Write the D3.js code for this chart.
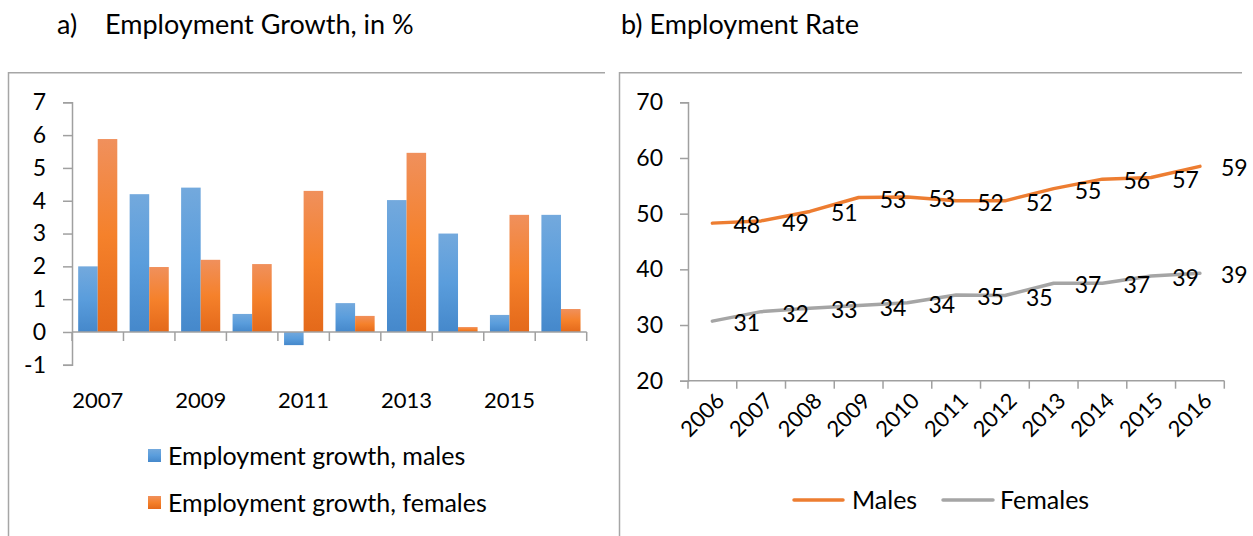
<!DOCTYPE html>
<html>
<head>
<meta charset="utf-8">
<script src="https://cdn.jsdelivr.net/npm/d3@7"></script>
<style>
  html, body { margin: 0; padding: 0; background: #fff; }
  svg { display: block; font-family: Lato, "Open Sans", sans-serif; }
  text { fill: #000; }
</style>
</head>
<body>
<svg id="chart" width="1253" height="536"></svg>
<script>
// ---------- data ----------
const growthYears = [2007, 2008, 2009, 2010, 2011, 2012, 2013, 2014, 2015, 2016];
const growthMales = [2.0, 4.2, 4.4, 0.55, -0.4, 0.88, 4.02, 3.0, 0.52, 3.57];
const growthFemales = [5.88, 1.98, 2.2, 2.07, 4.3, 0.49, 5.46, 0.15, 3.57, 0.7];
const growthTicks = [-1, 0, 1, 2, 3, 4, 5, 6, 7];
const growthYearLabels = [2007, 2009, 2011, 2013, 2015];
const growthSeries = ["Employment growth, males", "Employment growth, females"];

const rateYears = [2006, 2007, 2008, 2009, 2010, 2011, 2012, 2013, 2014, 2015, 2016];
const rateMales = [48.3, 48.7, 50.4, 52.9, 53.0, 52.3, 52.3, 54.5, 56.2, 56.5, 58.5];
const rateFemales = [30.7, 32.4, 33.0, 33.5, 34.0, 35.4, 35.3, 37.5, 37.5, 38.8, 39.3];
const rateMalesLabels = ["48", "49", "51", "53", "53", "52", "52", "55", "56", "57", "59"];
const rateFemalesLabels = ["31", "32", "33", "34", "34", "35", "35", "37", "37", "39", "39"];
const rateTicks = [20, 30, 40, 50, 60, 70];
const rateSeries = ["Males", "Females"];

const svg = d3.select("#chart");
const gridColor = "#a6a6a6";
const axisColor = "#a0a0a0";

// gradients
const defs = svg.append("defs");
function grad(id, stops) {
  const g = defs.append("linearGradient").attr("id", id)
    .attr("x1", 0).attr("y1", 0).attr("x2", 0).attr("y2", 1);
  stops.forEach(s => g.append("stop").attr("offset", s[0]).attr("stop-color", s[1]));
}
grad("gBlue", [[0, "#73a9dd"], [0.5, "#5a9ddc"], [1, "#4588cb"]]);
grad("gOrange", [[0, "#f0905c"], [0.5, "#f5812b"], [1, "#e4691a"]]);
const barFills = ["url(#gBlue)", "url(#gOrange)"];

// ---------- titles ----------
svg.append("text").attr("x", 57).attr("y", 34).attr("font-size", 27).text("a)");
svg.append("text").attr("x", 105).attr("y", 34).attr("font-size", 27).text("Employment Growth, in %");
svg.append("text").attr("x", 621).attr("y", 34).attr("font-size", 27).text("b) Employment Rate");

// ---------- frames ----------
svg.append("path").attr("d", "M8.5,540 V72.75 H605")
  .attr("fill", "none").attr("stroke", gridColor).attr("stroke-width", 1.5);
svg.append("path").attr("d", "M619.5,540 V72.75 H1242")
  .attr("fill", "none").attr("stroke", gridColor).attr("stroke-width", 1.5);

// ---------- chart a ----------
const yA = d3.scaleLinear().domain([-1, 7]).range([364.8, 102.3]);
const xA = d3.scaleBand().domain(growthYears).range([72, 586.7]).paddingInner(0.24).paddingOuter(0.12);
const xA1 = d3.scaleBand().domain([0, 1]).range([0, xA.bandwidth()]);
const gA = svg.append("g");

const rowsA = growthYears.map((yr, i) => ({ yr, vals: [growthMales[i], growthFemales[i]] }));
gA.selectAll("g.grp").data(rowsA).join("g").attr("class", "grp")
  .attr("transform", d => `translate(${xA(d.yr)},0)`)
  .selectAll("rect").data(d => d.vals.map((v, k) => ({ v, k }))).join("rect")
  .attr("x", d => xA1(d.k))
  .attr("width", xA1.bandwidth())
  .attr("y", d => yA(Math.max(0, d.v)))
  .attr("height", d => Math.abs(yA(d.v) - yA(0)))
  .attr("fill", d => barFills[d.k]);

// y axis
const axA = gA.append("g").attr("transform", "translate(72,0)")
  .call(d3.axisLeft(yA).tickValues(growthTicks).tickSize(9).tickPadding(17).tickFormat(d => String(d)));
axA.select(".domain").attr("stroke", axisColor).attr("stroke-width", 1.5);
axA.selectAll(".tick line").attr("stroke", axisColor).attr("stroke-width", 1.5);
axA.selectAll(".tick text").attr("font-size", 23).attr("font-family", "Lato").attr("fill", "#000");

// x axis
const zeroY = yA(0);
gA.append("line").attr("x1", 72).attr("x2", 586.7).attr("y1", zeroY).attr("y2", zeroY)
  .attr("stroke", axisColor).attr("stroke-width", 1.5);
const stepA = xA.step();
gA.selectAll("line.xt").data(d3.range(growthYears.length + 1)).join("line").attr("class", "xt")
  .attr("x1", k => 72 + k * stepA).attr("x2", k => 72 + k * stepA)
  .attr("y1", zeroY).attr("y2", zeroY + 9)
  .attr("stroke", axisColor).attr("stroke-width", 1.5);
gA.selectAll("text.xl").data(growthYearLabels).join("text").attr("class", "xl")
  .attr("x", d => xA(d) + xA.bandwidth() / 2).attr("y", 408)
  .attr("text-anchor", "middle").attr("font-size", 22).text(d => d);

// legend a
growthSeries.forEach((s, k) => {
  const cy = 456 + k * 47;
  gA.append("rect").attr("x", 148).attr("y", cy - 7).attr("width", 13).attr("height", 13).attr("fill", barFills[k]);
  gA.append("text").attr("x", 168).attr("y", cy).attr("dy", "0.35em").attr("font-size", 25).text(s);
});

// ---------- chart b ----------
const yB = d3.scaleLinear().domain([20, 70]).range([380.7, 102.3]);
const xB = d3.scaleBand().domain(rateYears).range([688, 1224.3]);
const cx = d => xB(d) + xB.bandwidth() / 2;
const gB = svg.append("g");

const axB = gB.append("g").attr("transform", "translate(688,0)")
  .call(d3.axisLeft(yB).tickValues(rateTicks).tickSize(8).tickPadding(17));
axB.select(".domain").attr("stroke", axisColor).attr("stroke-width", 1.5);
axB.selectAll(".tick line").attr("stroke", axisColor).attr("stroke-width", 1.5);
axB.selectAll(".tick text").attr("font-size", 23).attr("font-family", "Lato").attr("fill", "#000");

gB.append("line").attr("x1", 688).attr("x2", 1224.3).attr("y1", yB(20)).attr("y2", yB(20))
  .attr("stroke", axisColor).attr("stroke-width", 1.5);
const stepB = xB.step();
gB.selectAll("line.xt").data(d3.range(rateYears.length + 1)).join("line").attr("class", "xt")
  .attr("x1", k => 688 + k * stepB).attr("x2", k => 688 + k * stepB)
  .attr("y1", yB(20)).attr("y2", yB(20) + 8)
  .attr("stroke", axisColor).attr("stroke-width", 1.5);
gB.selectAll("text.xl").data(rateYears).join("text").attr("class", "xl")
  .attr("transform", d => `translate(${cx(d) + 8},${yB(20) + 16}) rotate(-45)`)
  .attr("text-anchor", "end").attr("dy", "0.35em").attr("font-size", 22).text(d => d);

const lineColors = ["#ed7d31", "#a5a5a5"];
const seriesB = [
  { vals: rateMales, labels: rateMalesLabels, color: lineColors[0] },
  { vals: rateFemales, labels: rateFemalesLabels, color: lineColors[1] }
];
const lineGen = d3.line().x((d, i) => cx(rateYears[i])).y(d => yB(d));
seriesB.forEach(s => {
  gB.append("path").attr("d", lineGen(s.vals)).attr("fill", "none")
    .attr("stroke", s.color).attr("stroke-width", 3.5).attr("stroke-linejoin", "round").attr("stroke-linecap", "round");
});
seriesB.forEach(s => {
  gB.selectAll(null).data(s.vals).join("text")
    .attr("x", (d, i) => cx(rateYears[i]) + 21)
    .attr("y", d => yB(d) + 2)
    .attr("dy", "0.35em").attr("font-size", 23)
    .text((d, i) => s.labels[i]);
});

// legend b
const legB = [{ x1: 794, x2: 843, tx: 852 }, { x1: 943, x2: 993, tx: 1000 }];
rateSeries.forEach((s, k) => {
  gB.append("line").attr("x1", legB[k].x1).attr("x2", legB[k].x2).attr("y1", 500).attr("y2", 500)
    .attr("stroke", lineColors[k]).attr("stroke-width", 3.5).attr("stroke-linecap", "round");
  gB.append("text").attr("x", legB[k].tx).attr("y", 500).attr("dy", "0.35em").attr("font-size", 25).text(s);
});
</script>
</body>
</html>
